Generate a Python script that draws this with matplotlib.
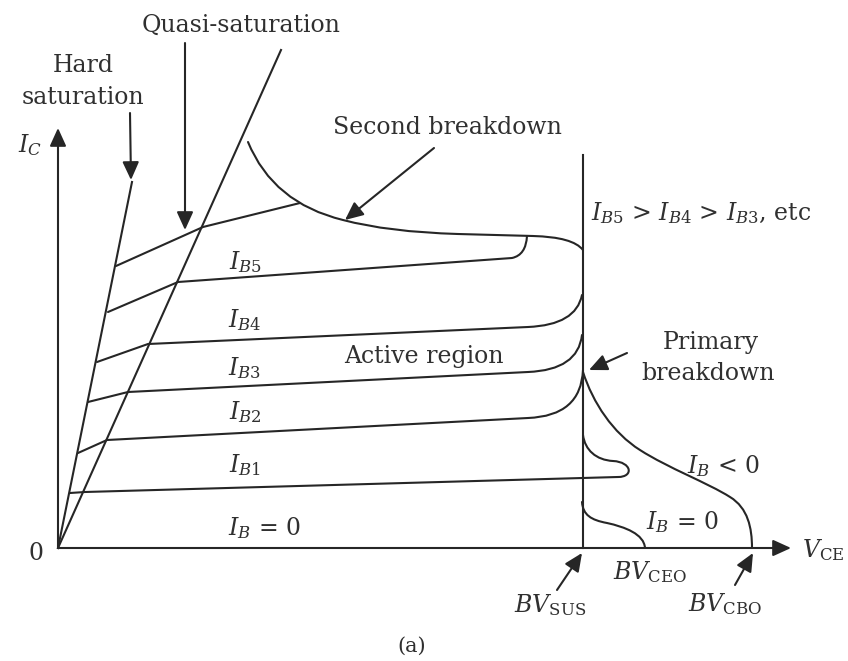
import numpy as np
import matplotlib
matplotlib.use("Agg")
import matplotlib.pyplot as plt
from matplotlib.path import Path
from matplotlib.patches import PathPatch

plt.rcParams["font.family"] = ["DejaVu Serif"]
plt.rcParams["mathtext.fontset"] = "dejavuserif"

INK = "#262626"
TXT = "#303030"
LW = 1.5

# Axis extents (V_CE, I_C in arbitrary units)
vce_axis_end = 733
ic_axis_end = 420

# Saturation boundaries through the origin
hard_sat_x = [0, 74]
hard_sat_y = [0, 366]
quasi_sat_x = [0, 223]
quasi_sat_y = [0, 498]

# Sustaining-voltage limit
bv_sus = 525
bv_sus_top = 393

# Output characteristics, one per base current (M=move, L=line, Q=quadratic, C=cubic)
ib6_x = [58, 145, 242]
ib6_y = [282, 321, 345]
ib6_codes = "MLL"

ib5_x = [50, 120, 454, 468, 469]
ib5_y = [236, 266, 290, 293, 312]
ib5_codes = "MLLQQ"

ib4_x = [39, 90, 470, 518, 524]
ib4_y = [186, 204, 221, 223, 253]
ib4_codes = "MLLQQ"

ib3_x = [30, 70, 470, 520, 524]
ib3_y = [146, 156, 176, 178, 213]
ib3_codes = "MLLQQ"

ib2_x = [20, 49, 470, 523, 525]
ib2_y = [95, 108, 130, 132, 178]
ib2_codes = "MLLQQ"

ib1_x = [12, 27, 560, 576, 574, 555, 538, 527, 525]
ib1_y = [55, 56, 71, 71, 86, 87, 88, 98, 113]
ib1_codes = "MLLCCCCCC"

ib0_x = [524, 525, 533, 549, 567, 586, 587]
ib0_y = [46, 33, 28, 25, 21, 14, 0]
ib0_codes = "MCCCCCC"

ibneg_x = [525, 535, 555, 582, 610, 650, 672, 690, 694, 694]
ibneg_y = [176, 145, 115, 98, 80, 65, 51, 40, 20, 0]
ibneg_codes = "MCCCCCCCCC"

# Second-breakdown locus
sb_x = [190, 215, 285, 330, 400, 475, 515, 525]
sb_y = [406, 345, 328, 316, 314, 312, 311, 298]
sb_codes = "MQQQQLQQ"

CODE = {"M": Path.MOVETO, "L": Path.LINETO, "Q": Path.CURVE3, "C": Path.CURVE4}


def draw_curve(ax, xs, ys, codes):
    path = Path(np.column_stack([xs, ys]), [CODE[c] for c in codes])
    ax.add_patch(PathPatch(path, fill=False, lw=LW, ec=INK,
                           capstyle="round", joinstyle="round"))


def arrow(ax, start, tip, scale=20):
    ax.annotate("", xy=tip, xytext=start,
                arrowprops=dict(arrowstyle="-|>,head_length=0.55,head_width=0.25",
                                lw=LW, color=INK, shrinkA=0, shrinkB=0,
                                mutation_scale=scale))


fig = plt.figure(figsize=(8.48, 6.61), dpi=100)
ax = fig.add_axes([0, 0, 1, 1])
ax.set_xlim(-58, 790)
ax.set_ylim(-113, 548)
ax.axis("off")

# Axes with arrowheads
arrow(ax, (0, 0), (vce_axis_end, 0))
arrow(ax, (0, 0), (0, ic_axis_end))

ax.plot(hard_sat_x, hard_sat_y, color=INK, lw=LW)
ax.plot(quasi_sat_x, quasi_sat_y, color=INK, lw=LW)
ax.plot([bv_sus, bv_sus], [0, bv_sus_top], color=INK, lw=LW)

for xs, ys, cs in [(ib6_x, ib6_y, ib6_codes), (ib5_x, ib5_y, ib5_codes),
                   (ib4_x, ib4_y, ib4_codes), (ib3_x, ib3_y, ib3_codes),
                   (ib2_x, ib2_y, ib2_codes), (ib1_x, ib1_y, ib1_codes),
                   (ib0_x, ib0_y, ib0_codes), (ibneg_x, ibneg_y, ibneg_codes),
                   (sb_x, sb_y, sb_codes)]:
    draw_curve(ax, xs, ys, cs)

# Pointer arrows
arrow(ax, (72, 435), (73, 368))
arrow(ax, (127, 505), (127, 318))
arrow(ax, (376, 400), (287, 328))
arrow(ax, (569, 195), (531, 178))
arrow(ax, (499, -42), (524, -5))
arrow(ax, (677, -37), (695, -5))

FS = 17
kw = dict(color=TXT, fontsize=FS, ha="center", va="center")
ax.text(25, 482, "Hard", **kw)
ax.text(25, 451, "saturation", **kw)
ax.text(183, 523, "Quasi-saturation", **kw)
ax.text(-28, 403, r"$I_C$", **kw)
ax.text(389, 420, "Second breakdown", **kw)
ax.text(533, 335, r"$I_{B5}$ > $I_{B4}$ > $I_{B3}$, etc", color=TXT, fontsize=FS,
        ha="left", va="center")
ax.text(188, 286, r"$I_{B5}$", **kw)
ax.text(187, 228, r"$I_{B4}$", **kw)
ax.text(187, 180, r"$I_{B3}$", **kw)
ax.text(187, 136, r"$I_{B2}$", **kw)
ax.text(187, 83, r"$I_{B1}$", **kw)
ax.text(206, 20, r"$I_B$ = 0", **kw)
ax.text(366, 191, "Active region", **kw)
ax.text(653, 205, "Primary", **kw)
ax.text(650, 175, "breakdown", **kw)
ax.text(665, 82, r"$I_B$ < 0", **kw)
ax.text(624, 26, r"$I_B$ = 0", **kw)
ax.text(744, -2, r"$V_{\mathrm{CE}}$", color=TXT, fontsize=FS, ha="left", va="center")
ax.text(592, -24, r"$BV_{\mathrm{CEO}}$", **kw)
ax.text(492, -57, r"$BV_{\mathrm{SUS}}$", **kw)
ax.text(667, -56, r"$BV_{\mathrm{CBO}}$", **kw)
ax.text(-22, -5, "0", **kw)
ax.text(354, -98, "(a)", color=TXT, fontsize=15, ha="center", va="center")

fig.savefig("out.png", dpi=100, facecolor="white")
